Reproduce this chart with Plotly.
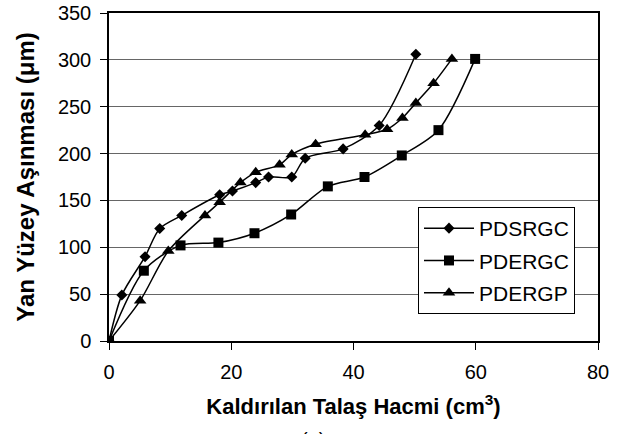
import plotly.graph_objects as go

# PDSRGC (diamond)
x_pdsrgc = [0, 2.1, 5.9, 8.3, 11.9, 18.1, 20.2, 24.0, 26.1, 29.9, 32.1, 38.3, 44.2, 50.2]
y_pdsrgc = [0, 49, 90, 120, 134, 156, 160, 169, 175, 175, 195, 205, 230, 306]

# PDERGC (square)
x_pdergc = [0, 5.7, 11.7, 17.9, 23.8, 29.8, 35.8, 41.8, 47.9, 53.9, 59.9]
y_pdergc = [0, 75, 102, 105, 115, 135, 165, 175, 198, 225, 301]

# PDERGP (triangle)
x_pdergp = [0, 5.1, 9.7, 15.7, 18.1, 21.5, 24.0, 27.9, 29.9, 33.8, 41.9, 45.5, 48.0, 50.2, 53.1, 56.1]
y_pdergp = [0, 43, 96, 134, 148, 169, 180, 188, 199, 210, 220, 226, 238, 254, 275, 301]

names = ["PDSRGC", "PDERGC", "PDERGP"]
x_ticks = [0, 20, 40, 60, 80]
y_ticks = [0, 50, 100, 150, 200, 250, 300, 350]

series = [
    (x_pdsrgc, y_pdsrgc, "diamond", 8.5),
    (x_pdergc, y_pdergc, "square", 10),
    (x_pdergp, y_pdergp, "triangle-up", 11),
]

fig = go.Figure()
for (xs, ys, sym, sz), nm in zip(series, names):
    fig.add_trace(go.Scatter(
        x=xs, y=ys, name=nm, mode="lines+markers", legendgroup=nm,
        line=dict(color="black", width=1.5, shape="spline", smoothing=0.8),
        marker=dict(symbol=sym, size=sz, color="black"),
    ))

font = "Liberation Sans, Arial, sans-serif"
fig.update_layout(
    width=629, height=434,
    margin=dict(l=109, r=31, t=13, b=93),
    paper_bgcolor="white", plot_bgcolor="white",
    font=dict(family=font, color="black", size=20),
    showlegend=True,
    legend=dict(
        x=(418 - 109) / 489, y=(341 - 207) / 328, xanchor="left", yanchor="top",
        bgcolor="white", bordercolor="black", borderwidth=1,
        font=dict(size=21, family=font), tracegroupgap=2, itemwidth=50,
    ),
    xaxis=dict(
        range=[0, 80], tickvals=x_ticks, ticks="outside", ticklen=7, tickcolor="black",
        ticklabelstandoff=5, ticklabeloverflow="allow",
        showline=True, linecolor="black", linewidth=1.5, mirror=True,
        showgrid=False, zeroline=False, automargin=False,
        title=dict(text="<b>Kaldırılan Talaş Hacmi (cm<sup>3</sup>)</b>", font=dict(size=22), standoff=17),
    ),
    yaxis=dict(
        range=[0, 350], tickvals=y_ticks, ticks="outside", ticklen=7, tickcolor="black",
        ticklabelstandoff=5, ticklabeloverflow="allow",
        showline=True, linecolor="black", linewidth=1.5, mirror=True,
        showgrid=True, gridcolor="#666666", gridwidth=1, zeroline=False, automargin=False,
        title=dict(text="<b>Yan Yüzey Aşınması (μm)</b>", font=dict(size=24), standoff=16),
    ),
)
fig.add_annotation(
    text="(a)", xref="paper", yref="paper", x=(313 - 109) / 489, y=(341 - 427) / 328,
    xanchor="center", yanchor="top", showarrow=False, font=dict(size=20),
)
fig.write_html("out.html", config={"displayModeBar": False},
               post_script="document.body.style.margin='0';")
